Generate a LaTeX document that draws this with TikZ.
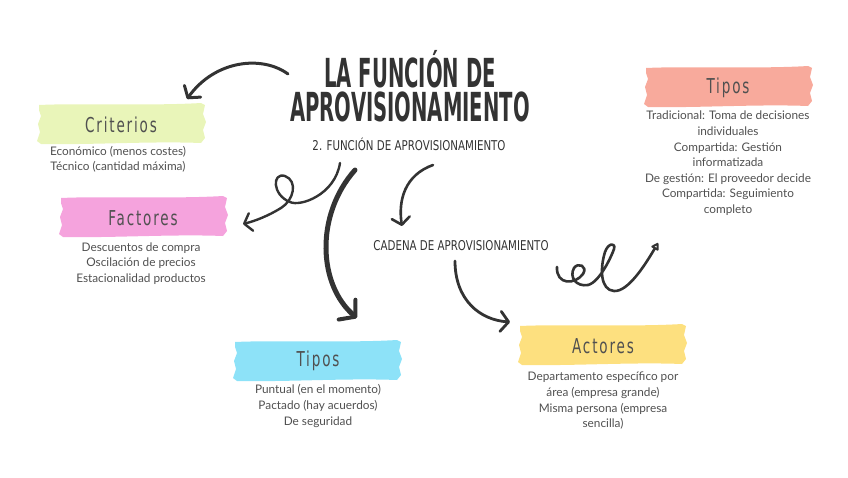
\documentclass[tikz,border=0pt]{standalone}
\usepackage{fontspec}
\setmainfont{Lato}
\newfontfamily\titlefont[FakeStretch=0.49]{DejaVu Sans}
\newfontfamily\subfont[FakeStretch=0.76]{DejaVu Sans}
\newfontfamily\labelfont[FakeStretch=0.66,LetterSpace=9]{DejaVu Sans}
\usetikzlibrary{arrows.meta,calc}
\definecolor{ink}{HTML}{333333}
\definecolor{txt}{HTML}{505050}
\definecolor{cgreen}{HTML}{E9F5B9}
\definecolor{cpink}{HTML}{F5A3DD}
\definecolor{csalmon}{HTML}{F8AA9C}
\definecolor{ccyan}{HTML}{8DE2F8}
\definecolor{cyellow}{HTML}{FDE07F}
\tikzset{
  brush/.pic={\fill[pic actions] (-82,-19) .. controls (-40,-21) and (30,-18) .. (80,-21) -- (84,-19) -- (82,-10) -- (85,-2) -- (82,6) -- (84,14) -- (80,19) .. controls (30,17) and (-30,21) .. (-80,20) -- (-84,17) -- (-81,8) -- (-83,0) -- (-80,-8) -- (-82,-14) -- cycle;},
  titletext/.style={font=\titlefont\bfseries\fontsize{40}{34}\selectfont, text=ink, inner sep=0pt, align=center},
  subtext/.style={font=\subfont\fontsize{13.5}{13.5}\selectfont, text=ink, inner sep=0pt},
  labeltext/.style={font=\labelfont\fontsize{20.5}{20.5}\selectfont, text=txt, inner sep=0pt},
  bodytext/.style={font=\fontsize{11.8}{15.6}\selectfont, text=txt, align=center, inner sep=0pt, anchor=north},
  arr/.style={draw=ink, line width=3pt, line cap=round, line join=round},
  barb/.style={-{Straight Barb[length=8pt,width=20pt,line width=3pt,round]}},
}
\begin{document}
\begin{tikzpicture}[x=1pt,y=-1pt]
\useasboundingbox (0,0) rectangle (848,477);
% title
\node[titletext,anchor=south] (title) at (410,122) {LA FUNCIÓN DE\\APROVISIONAMIENTO};
\node[subtext] (sub) at (409,144) {2. FUNCIÓN DE APROVISIONAMIENTO};
\node[subtext] (cad) at (461,246) {CADENA DE APROVISIONAMIENTO};
% brushes
\pic[fill=cgreen] at (121,124) {brush};
\pic[fill=cpink] at (143,217) {brush};
\pic[fill=csalmon] at (728,87) {brush};
\pic[fill=ccyan] at (317,361) {brush};
\pic[fill=cyellow] at (602,345) {brush};
% labels
\node[labeltext] (crit) at (121,125) {Criterios};
\node[labeltext] (fact) at (143,218) {Factores};
\node[labeltext] (tipr) at (728,88) {Tipos};
\node[labeltext] (tipb) at (318,361) {Tipos};
\node[labeltext] (act) at (603,346) {Actores};
% bodies
\node[bodytext] (critb) at (118,146) {Económico (menos costes)\\Técnico (cantidad máxima)};
\node[bodytext] (factb) at (141,242.5) {Descuentos de compra\\Oscilación de precios\\Estacionalidad productos};
\node[bodytext] (tiprb) at (728,111) {Tradicional: Toma de decisiones\\individuales\\Compartida: Gestión\\informatizada\\De gestión: El proveedor decide\\Compartida: Seguimiento\\completo};
\node[bodytext] (tipbb) at (318,384.5) {Puntual (en el momento)\\Pactado (hay acuerdos)\\De seguridad};
\node[bodytext] (actb) at (603,372) {Departamento específico por\\área (empresa grande)\\Misma persona (empresa\\sencilla)};
% arrow coordinates
\coordinate (a1s) at (288,74);
\coordinate (a1e) at (187,99);
\coordinate (a2s) at (340,163);
\coordinate (a2e) at (243,224);
\coordinate (a3s) at (355,170);
\coordinate (a3e) at (357,318);
\coordinate (a4s) at (433,165);
\coordinate (a4e) at (402,226);
\coordinate (a5s) at (455,261);
\coordinate (a5e) at (510,322);
\coordinate (a6s) at (557,267);
\coordinate (a6e) at (658,243);
% arrows
\draw[arr,barb] (a1s) .. controls (262,55) and (215,60) .. (a1e);
\draw[arr,line width=2.4pt,-{Straight Barb[length=7pt,width=18pt,line width=2.4pt,round]}] (a2s) .. controls (335,195) and (300,207) .. (290,202) .. controls (272,195) and (272,172) .. (285,176) .. controls (298,181) and (294,200) .. (281,208) .. controls (268,216) and (255,221) .. (a2e);
\draw[arr,line width=5pt,-{Straight Barb[length=11pt,width=26pt,line width=4pt,round]}] (a3s) .. controls (315,215) and (318,285) .. (a3e);
\draw[arr,line width=2.6pt,-{Straight Barb[length=7pt,width=18pt,line width=2.6pt,round]}] (a4s) .. controls (405,175) and (398,200) .. (a4e);
\draw[arr,line width=2.8pt,-{Straight Barb[length=8pt,width=20pt,line width=2.8pt,round]}] (a5s) .. controls (455,300) and (480,320) .. (a5e);
\draw[arr,line width=2.6pt,-{Triangle[open,length=8pt,width=9pt,line width=2.4pt,round]}] (a6s) .. controls (556,285) and (575,285) .. (583,274) .. controls (588,266) and (578,262) .. (574,268) .. controls (569,277) and (576,287) .. (588,285) .. controls (600,282) and (612,255) .. (614,249) .. controls (616,242) and (608,243) .. (605,252) .. controls (600,268) and (600,290) .. (614,291) .. controls (628,292) and (645,265) .. (a6e);
\end{tikzpicture}
\end{document}
